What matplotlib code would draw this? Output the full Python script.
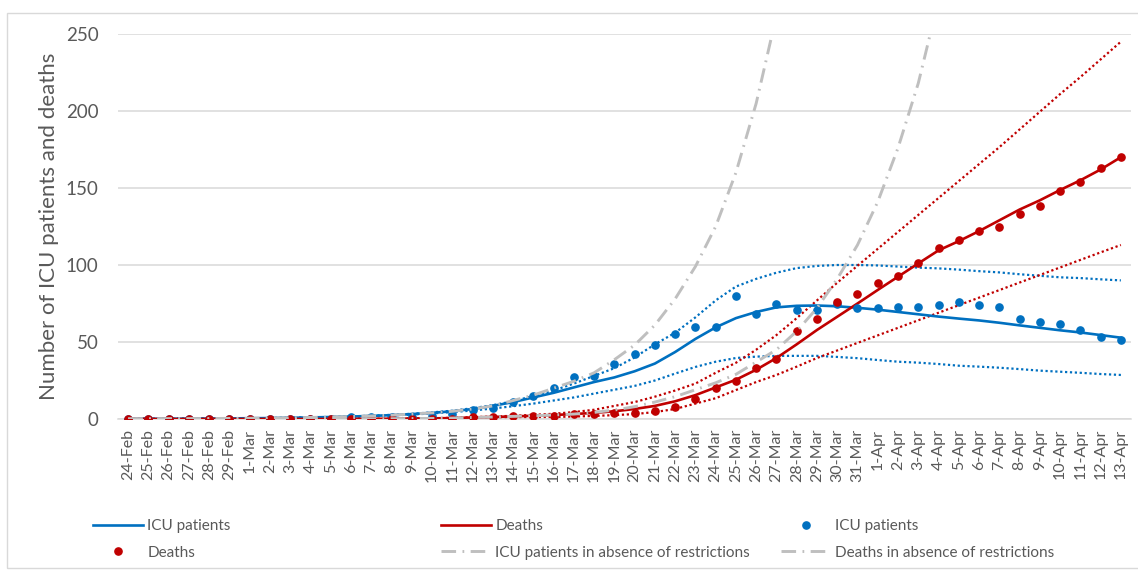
import matplotlib

matplotlib.use("Agg")
import matplotlib.pyplot as plt
from matplotlib.patches import Rectangle
import numpy as np

nan = np.nan

FECHAS = (
    ["24-Feb", "25-Feb", "26-Feb", "27-Feb", "28-Feb", "29-Feb"]
    + [f"{d}-Mar" for d in range(1, 32)]
    + [f"{d}-Apr" for d in range(1, 14)]
)

# modelo UCI (linea azul) y bandas
uci_modelo = [
    0.1, 0.1, 0.2, 0.2, 0.3, 0.4,
    0.5, 0.6, 0.8, 1.0, 1.3, 1.6, 2.0, 2.5, 3.2, 4.0, 5.0, 6.5, 8.5, 11, 14, 17,
    20.5, 24, 27, 31, 36, 43.5, 52, 59.5, 65.5, 69.5, 72.5, 73.5, 73.7, 73.2, 72.2,
    71, 69.5, 68, 66.5, 65.2, 64, 62.5, 60.8, 59.2, 57.6, 56.2, 54.5, 52.8,
]
uci_superior = [
    0.1, 0.1, 0.2, 0.2, 0.3, 0.4,
    0.5, 0.6, 0.8, 1.0, 1.3, 1.7, 2.1, 2.7, 3.4, 4.3, 5.4, 7.0, 9.0, 11.5, 15, 18.5,
    23, 28, 33, 40, 48.5, 56, 66, 77, 86, 91, 95, 98, 99.4, 100, 100,
    99.7, 99, 98.3, 97.8, 97, 96, 95.2, 94, 93, 92, 91.5, 90.7, 90,
]
uci_inferior = [
    0.1, 0.1, 0.2, 0.2, 0.3, 0.4,
    0.5, 0.6, 0.8, 1.0, 1.2, 1.5, 1.9, 2.3, 2.9, 3.6, 4.5, 5.5, 6.8, 8.3, 10, 12,
    14, 16.5, 19, 21.5, 25, 29.5, 33.8, 37.2, 39.6, 40.5, 41, 41, 41, 40.3, 39.5,
    38.3, 37.2, 36.6, 35.7, 34.6, 34, 33.3, 32.4, 31.4, 30.7, 30, 29.2, 28.6,
]
uci_observado = [
    0, 0, 0, 0, 0, 0,
    0, 0, 0, 0, 0, 1, 1, 1, 1, 2, 3, 6, 7, 11, 15, 20,
    27, 28, 36, 42, 48, 55, 60, 60, 80, 68, 75, 71, 71, 75, 72,
    72, 73, 73, 74, 76, 74, 73, 65, 63, 62, 58, 53, 51,
]
uci_sin_restricciones = [
    0.1, 0.1, 0.2, 0.2, 0.3, 0.4,
    0.5, 0.6, 0.8, 1.0, 1.3, 1.6, 2.0, 2.5, 3.2, 4.0, 5.0, 6.5, 8.5, 12, 15.5, 20,
    24.5, 30, 38.5, 48, 61, 78, 99, 125, 160, 205, 262, nan, nan, nan, nan,
    nan, nan, nan, nan, nan, nan, nan, nan, nan, nan, nan, nan, nan,
]

# modelo de fallecidos (linea roja) y bandas
muertes_modelo = [
    0, 0, 0, 0, 0, 0,
    0, 0, 0, 0, 0, 0.1, 0.1, 0.2, 0.3, 0.4, 0.6, 1.0, 1.3, 1.7, 2.1, 2.6,
    3.2, 4.0, 5.0, 6.5, 8.5, 11.5, 15.5, 20.5, 25.5, 32, 39.6, 48.5, 57.8, 66.4, 75,
    83.8, 92.4, 101, 109.5, 115.5, 122, 129, 136, 142, 148.7, 155, 162, 170,
]
muertes_superior = [
    0, 0, 0, 0, 0, 0,
    0, 0, 0, 0, 0, 0.1, 0.1, 0.2, 0.3, 0.5, 0.8, 1.2, 1.6, 2.1, 2.7, 3.4,
    4.5, 6, 8.5, 11, 14.5, 18.5, 23, 30, 36.5, 45, 54.5, 65.5, 77, 88.5, 99.5,
    110.5, 121.5, 132.5, 143.5, 154.5, 165.5, 176.5, 188, 199.5, 211, 222, 233.5, 245,
]
muertes_inferior = [
    0, 0, 0, 0, 0, 0,
    0, 0, 0, 0, 0, 0, 0, 0.1, 0.1, 0.2, 0.3, 0.5, 0.7, 0.9, 1.1, 1.3,
    1.6, 2.0, 2.5, 3.2, 4.5, 6.5, 10, 13.5, 18.8, 24, 28.6, 34, 39.6, 44.5, 49.4,
    54.3, 59.2, 64.1, 69, 73.9, 78.8, 83.7, 88.6, 93.5, 98.4, 103.3, 108.2, 113,
]
muertes_observado = [
    0, 0, 0, 0, 0, 0,
    0, 0, 0, 0, 0, 0, 0, 0, 0, 0, 0, 1, 1, 2, 2, 2,
    3, 3, 4, 4, 5, 8, 13, 20, 25, 33, 39, 57, 65, 76, 81,
    88, 93, 101, 111, 116, 122, 125, 133, 138, 148, 154, 163, 170,
]
muertes_sin_restricciones = [
    0, 0, 0, 0, 0, 0,
    0, 0, 0, 0, 0, 0.1, 0.1, 0.2, 0.3, 0.4, 0.6, 1.0, 1.3, 1.7, 2.1, 2.6,
    3.2, 4.3, 5.8, 8, 11, 14.5, 19, 23.5, 29, 37, 45, 57, 72, 91, 113,
    141, 176, 218, 272, nan, nan, nan, nan, nan, nan, nan, nan, nan,
]

AZUL = "#0070C0"
ROJO = "#C00000"
GRIS = "#BFBFBF"
TEXTO = "#595959"
REJILLA = "#D9D9D9"

plt.rcParams["font.family"] = ["Lato", "DejaVu Sans"]

x = np.arange(len(FECHAS))

fig = plt.figure(figsize=(11.38, 5.72), dpi=100)
ax = fig.add_axes([118 / 1138, 1 - 419 / 572, 1013 / 1138, 385 / 572])

punteado = (0, (1, 1.2))
raya_punto = (0, (5, 2.2, 0.6, 2.2))

ax.plot(x, uci_superior, color=AZUL, lw=1.6, ls=punteado, zorder=2)
ax.plot(x, uci_inferior, color=AZUL, lw=1.6, ls=punteado, zorder=2)
ax.plot(x, muertes_superior, color=ROJO, lw=1.6, ls=punteado, zorder=2)
ax.plot(x, muertes_inferior, color=ROJO, lw=1.6, ls=punteado, zorder=2)

l_uci, = ax.plot(x, uci_modelo, color=AZUL, lw=1.9, zorder=3)
l_muertes, = ax.plot(x, muertes_modelo, color=ROJO, lw=1.9, zorder=3)
p_uci, = ax.plot(x, uci_observado, ls="none", marker="o", ms=5.2, color=AZUL, zorder=4)
p_muertes, = ax.plot(x, muertes_observado, ls="none", marker="o", ms=5.2, color=ROJO, zorder=4)
g_uci, = ax.plot(x, uci_sin_restricciones, color=GRIS, lw=2.1, ls=raya_punto, zorder=5)
g_muertes, = ax.plot(x, muertes_sin_restricciones, color=GRIS, lw=2.1, ls=raya_punto, zorder=5)

ax.set_xlim(-0.5, len(FECHAS) - 0.5)
ax.set_ylim(0, 250)
ax.set_yticks(np.arange(0, 251, 50))
ax.set_xticks(x)
ax.set_xticklabels(FECHAS, rotation=90, fontsize=11.5, color=TEXTO)
ax.tick_params(axis="x", length=0, pad=7)
ax.tick_params(axis="y", length=0, pad=14, labelsize=13.5, labelcolor=TEXTO)
ax.grid(axis="y", color=REJILLA, lw=1.1)
ax.set_axisbelow(True)
for lado in ["top", "right", "left"]:
    ax.spines[lado].set_visible(False)
ax.spines["bottom"].set_color(REJILLA)
ax.spines["bottom"].set_linewidth(1.1)

ax.set_ylabel("Number of ICU patients and deaths", fontsize=16, color=TEXTO)
ax.yaxis.set_label_coords(-0.058, 0.5)

# marco exterior del grafico
fig.add_artist(
    Rectangle((7 / 1138, 1 - 568 / 572), 1.2, 555 / 572, transform=fig.transFigure,
              fill=False, edgecolor=REJILLA, lw=1.0)
)

columnas = [
    (93, [l_uci, p_muertes], ["ICU patients", "Deaths"]),
    (441, [l_muertes, g_uci], ["Deaths", "ICU patients in absence of restrictions"]),
    (781, [p_uci, g_muertes], ["ICU patients", "Deaths in absence of restrictions"]),
]
for x_px, manejadores, textos in columnas:
    fig.legend(
        manejadores,
        textos,
        loc="upper left",
        bbox_to_anchor=(x_px / 1138, 1 - 519 / 572),
        frameon=False,
        fontsize=11,
        labelcolor=TEXTO,
        handlelength=3.3,
        handletextpad=0.25,
        labelspacing=0.82,
        borderpad=0,
        borderaxespad=0,
    )

fig.savefig("out.png", dpi=100)
plt.close(fig)
